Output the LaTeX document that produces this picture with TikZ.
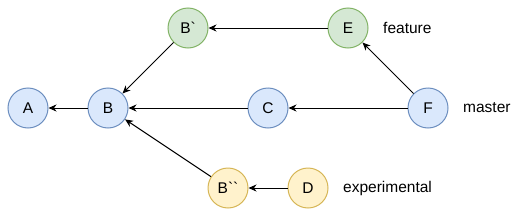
\documentclass[tikz,border=0pt]{standalone}
\usepackage{fontspec}
\newfontfamily\lab{Liberation Sans}[Ligatures=TeXOff]
\usetikzlibrary{arrows.meta}
\definecolor{bfill}{HTML}{DAE8FC}\definecolor{bline}{HTML}{6C8EBF}
\definecolor{gfill}{HTML}{D5E8D4}\definecolor{gline}{HTML}{82B366}
\definecolor{yfill}{HTML}{FFF2CC}\definecolor{yline}{HTML}{D6B656}
\begin{document}
\begin{tikzpicture}[x=1pt,y=-1pt,
  commit/.style={circle,minimum size=40pt,inner sep=0pt,line width=1pt,font=\lab\fontsize{15.5pt}{18pt}\selectfont},
  bluec/.style={commit,draw=bline,fill=bfill},
  greenc/.style={commit,draw=gline,fill=gfill},
  yellowc/.style={commit,draw=yline,fill=yfill},
  lbl/.style={anchor=west,inner sep=0pt,font=\lab\fontsize{15.5pt}{18pt}\selectfont},
  edge/.style={line width=1pt,-{Stealth[length=8pt,width=7pt,inset=2.5pt]}}]
\useasboundingbox (0,0) rectangle (519,217);
\node[bluec] (A) at (28,108) {A};
\node[bluec] (B) at (108,108) {B};
\node[greenc] (B1) at (188,28) {B`};
\node[bluec] (C) at (268,108) {C};
\node[greenc] (E) at (348,28) {E};
\node[bluec] (F) at (428,108) {F};
\node[yellowc] (B2) at (228,188) {B``};
\node[yellowc] (D) at (308,188) {D};
\node[lbl] (lf) at (383,28) {feature};
\node[lbl] (lm) at (463,108) {master};
\node[lbl] (le) at (343,188) {experimental};
\draw[edge] (B) -- (A);
\draw[edge] (B1) -- (B);
\draw[edge] (C) -- (B);
\draw[edge] (B2) -- (B);
\draw[edge] (E) -- (B1);
\draw[edge] (F) -- (C);
\draw[edge] (F) -- (E);
\draw[edge] (D) -- (B2);
\end{tikzpicture}
\end{document}
